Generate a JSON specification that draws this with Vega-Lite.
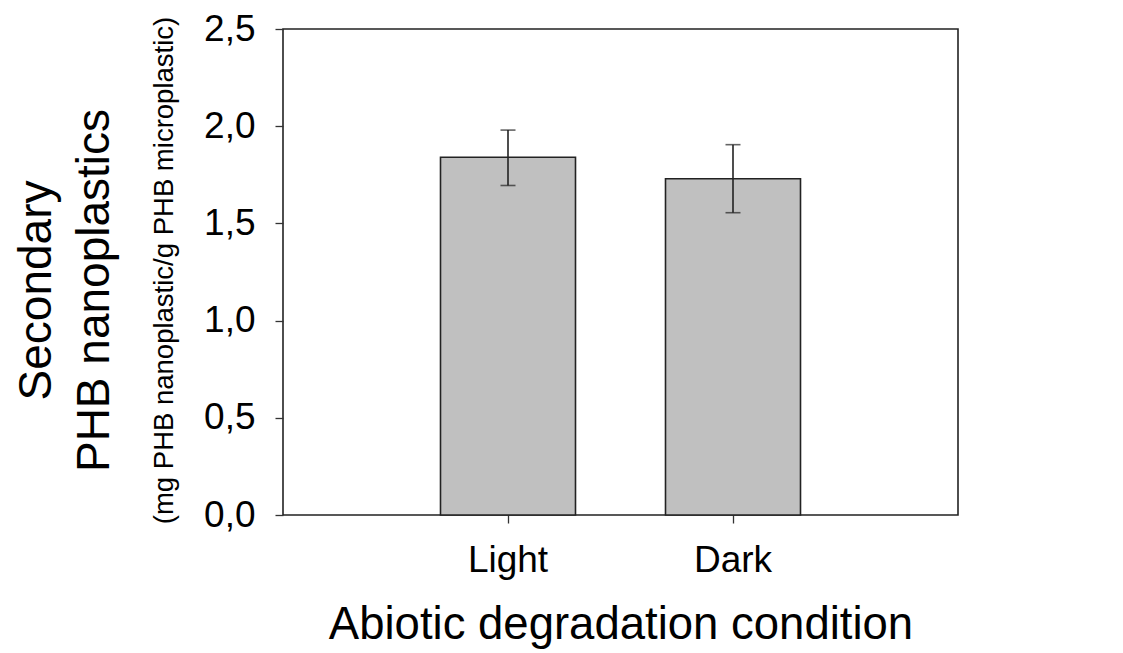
{
  "$schema": "https://vega.github.io/schema/vega-lite/v6.json",
  "width": 675,
  "height": 486,
  "autosize": {"type": "none"},
  "padding": {"left": 283, "top": 29, "right": 165, "bottom": 138},
  "background": "white",
  "data": {
    "values": [
      {"condition": "Light", "mean": 1.84, "lower": 1.695, "upper": 1.98},
      {"condition": "Dark", "mean": 1.73, "lower": 1.555, "upper": 1.905}
    ]
  },
  "encoding": {
    "x": {
      "field": "condition",
      "type": "nominal",
      "sort": ["Light", "Dark"],
      "scale": {"paddingInner": 0.4, "paddingOuter": 0.7},
      "axis": {
        "title": "Abiotic degradation condition",
        "labelAngle": 0,
        "labelFontSize": 37,
        "labelPadding": 19,
        "tickSize": 8,
        "tickWidth": 1.3,
        "tickColor": "#333",
        "domain": false,
        "titleFontSize": 45.5,
        "titlePadding": 24,
        "titleFontWeight": "normal"
      }
    }
  },
  "layer": [
    {
      "mark": {"type": "bar", "fill": "#c0c0c0", "stroke": "#222", "strokeWidth": 1.6},
      "encoding": {
        "y": {
          "field": "mean",
          "type": "quantitative",
          "scale": {"domain": [0, 2.5], "nice": false},
          "axis": {
            "orient": "left",
            "values": [0, 0.5, 1, 1.5, 2, 2.5],
            "labelExpr": "replace(format(datum.value, '.1f'), '.', ',')",
            "labelFontSize": 37,
            "labelPadding": 20,
            "tickSize": 8,
            "tickWidth": 1.3,
            "tickColor": "#333",
            "domain": false,
            "grid": false,
            "title": "(mg PHB nanoplastic/g PHB microplastic)",
            "titleFontSize": 27.5,
            "titleFontWeight": "normal",
            "titleX": -111,
            "titleY": 241,
            "titleBaseline": "alphabetic"
          }
        }
      }
    },
    {
      "mark": {"type": "rule", "stroke": "#222", "strokeWidth": 1.6},
      "encoding": {
        "y": {
          "field": "lower",
          "type": "quantitative",
          "axis": {
            "orient": "left",
            "labels": false,
            "ticks": false,
            "domain": false,
            "grid": false,
            "title": ["Secondary", "PHB nanoplastics"],
            "titleFontSize": 46,
            "titleFontWeight": "normal",
            "titleLineHeight": 58,
            "titleX": -233,
            "titleY": 261,
            "titleBaseline": "alphabetic"
          }
        },
        "y2": {"field": "upper"}
      }
    },
    {
      "mark": {"type": "tick", "color": "#222", "size": 15, "thickness": 1.6},
      "encoding": {
        "y": {"field": "lower", "type": "quantitative", "axis": null}
      }
    },
    {
      "mark": {"type": "tick", "color": "#222", "size": 15, "thickness": 1.6},
      "encoding": {
        "y": {"field": "upper", "type": "quantitative", "axis": null}
      }
    }
  ],
  "resolve": {"axis": {"y": "independent"}},
  "config": {
    "font": "Liberation Sans",
    "view": {"stroke": "#222", "strokeWidth": 1.6},
    "axis": {"labelColor": "black", "titleColor": "black"}
  }
}
